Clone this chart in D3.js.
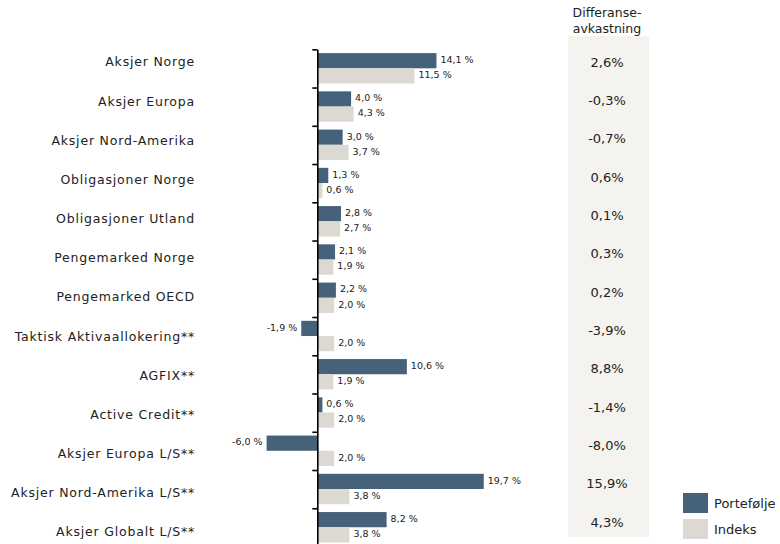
<!DOCTYPE html>
<html>
<head>
<meta charset="utf-8">
<script src="https://cdn.jsdelivr.net/npm/d3@7"></script>
<style>
  body { margin: 0; background: #fff; }
  svg text { font-family: "DejaVu Sans", Verdana, sans-serif; fill: #222; }
</style>
</head>
<body>
<div id="chart"></div>
<script>
// Chart data
const categories = [
    'Aksjer Norge', 'Aksjer Europa', 'Aksjer Nord-Amerika', 'Obligasjoner Norge',
    'Obligasjoner Utland', 'Pengemarked Norge', 'Pengemarked OECD',
    'Taktisk Aktivaallokering**', 'AGFIX**', 'Active Credit**',
    'Aksjer Europa L/S**', 'Aksjer Nord-Amerika L/S**', 'Aksjer Globalt L/S**'
];
const portefolje = [14.1, 4.0, 3.0, 1.3, 2.8, 2.1, 2.2, -1.9, 10.6, 0.6, -6.0, 19.7, 8.2];
const indeks = [11.5, 4.3, 3.7, 0.6, 2.7, 1.9, 2.0, 2.0, 1.9, 2.0, 2.0, 3.8, 3.8];
const differanse = [2.6, -0.3, -0.7, 0.6, 0.1, 0.3, 0.2, -3.9, 8.8, -1.4, -8.0, 15.9, 4.3];
const seriesNames = ['Portefølje', 'Indeks'];
const colors = ['#46617a', '#dcd9d2'];

const width = 780, height = 544;
const fmt = v => d3.format('.1f')(v).replace('.', ',').replace('\u2212', '-');

const svg = d3.select('#chart').append('svg')
    .attr('width', width)
    .attr('height', height);

// Scales
const x = d3.scaleLinear().domain([-6, 20]).range([266.6, 486.3]);
const y = d3.scaleBand().domain(categories).range([49.3, 546.5]).paddingInner(0);
const yIdx = d3.scaleLinear().domain([0, categories.length]).range([49.3, 546.5]);
const yLabel = d3.scalePoint().domain(categories).range([62, 532]);
const yDiff = d3.scalePoint().domain(categories).range([62, 522]);

const barPad = 3.8, barH = 15.2;

// Differanse column background
svg.append('rect')
    .attr('x', 568).attr('y', 36)
    .attr('width', 81).attr('height', 501)
    .attr('fill', '#f4f3ef');

svg.append('text')
    .attr('x', 607).attr('y', 17)
    .attr('text-anchor', 'middle')
    .style('font-size', '12.5px')
    .text('Differanse-');
svg.append('text')
    .attr('x', 607).attr('y', 33)
    .attr('text-anchor', 'middle')
    .style('font-size', '12.5px')
    .text('avkastning');

svg.selectAll('text.diff')
    .data(categories)
    .join('text')
    .attr('class', 'diff')
    .attr('x', 607)
    .attr('y', d => yDiff(d))
    .attr('dy', '0.35em')
    .attr('text-anchor', 'middle')
    .style('font-size', '13px')
    .text((d, i) => fmt(differanse[i]) + '%');

// Category labels
svg.selectAll('text.cat')
    .data(categories)
    .join('text')
    .attr('class', 'cat')
    .attr('x', 195)
    .attr('y', d => yLabel(d))
    .attr('dy', '0.35em')
    .attr('text-anchor', 'end')
    .style('font-size', '12.5px')
    .style('letter-spacing', '0.8px')
    .text(d => d);

// Bars
const rows = categories.map((c, i) => ({ cat: c, p: portefolje[i], ix: indeks[i] }));

const row = svg.selectAll('g.row')
    .data(rows)
    .join('g')
    .attr('class', 'row')
    .attr('transform', d => `translate(0,${y(d.cat)})`);

row.append('rect')
    .attr('x', d => x(Math.min(0, d.p)))
    .attr('y', barPad)
    .attr('width', d => Math.abs(x(d.p) - x(0)))
    .attr('height', barH)
    .attr('fill', colors[0]);

row.append('rect')
    .attr('x', d => x(Math.min(0, d.ix)))
    .attr('y', barPad + barH)
    .attr('width', d => Math.abs(x(d.ix) - x(0)))
    .attr('height', barH)
    .attr('fill', colors[1]);

row.append('text')
    .attr('x', d => d.p < 0 ? x(d.p) - 4 : x(d.p) + 4)
    .attr('y', barPad + barH / 2 - 1)
    .attr('dy', '0.35em')
    .attr('text-anchor', d => d.p < 0 ? 'end' : 'start')
    .style('font-size', '9.5px')
    .text(d => fmt(d.p) + ' %');

row.append('text')
    .attr('x', d => x(d.ix) + 4)
    .attr('y', barPad + barH * 1.5 - 1)
    .attr('dy', '0.35em')
    .style('font-size', '9.5px')
    .text(d => fmt(d.ix) + ' %');

// Axis with ticks at band boundaries
const axisG = svg.append('g')
    .attr('transform', `translate(${x(0)},0)`)
    .call(d3.axisLeft(yIdx)
        .tickValues(d3.range(categories.length))
        .tickFormat('')
        .tickSize(5)
        .tickSizeOuter(0));
axisG.select('.domain').attr('stroke', '#000').attr('stroke-width', 1.6);
axisG.selectAll('.tick line').attr('stroke', '#000').attr('stroke-width', 1.6);

// Legend
const legend = svg.selectAll('g.legend')
    .data(seriesNames)
    .join('g')
    .attr('class', 'legend')
    .attr('transform', (d, i) => `translate(683,${493 + i * 26})`);

legend.append('rect')
    .attr('width', 25).attr('height', 20)
    .attr('fill', (d, i) => colors[i]);

legend.append('text')
    .attr('x', 31).attr('y', 10)
    .attr('dy', '0.35em')
    .style('font-size', '13px')
    .text(d => d);
</script>
</body>
</html>
